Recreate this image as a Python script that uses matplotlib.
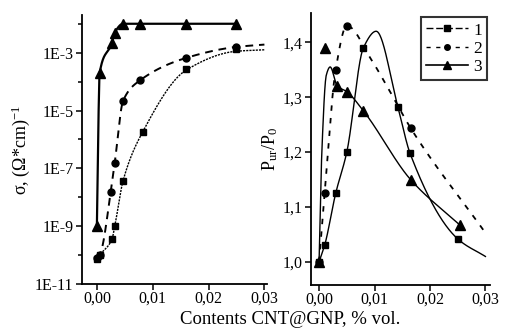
import numpy as np
import matplotlib
matplotlib.use("Agg")
import matplotlib.pyplot as plt
from matplotlib.ticker import FixedLocator, FuncFormatter

plt.rcParams['font.family'] = ['Liberation Serif', 'DejaVu Serif']
plt.rcParams['mathtext.fontset'] = 'custom'
plt.rcParams['mathtext.rm'] = 'Liberation Serif'
plt.rcParams['mathtext.it'] = 'Liberation Serif'

# ---------------- data: left panel (conductivity, log10 values) ----------------
s1_x = [0.0, 0.0005, 0.0027, 0.0032, 0.0047, 0.0082, 0.016, 0.025]
s1_logy = [-10.15, -10.0, -9.45, -9.0, -7.42, -5.74, -3.55, -2.88]
s1_curve_x = [0.0, 0.0005, 0.0027, 0.0032, 0.0047, 0.0082, 0.016, 0.025, 0.03]
s1_curve_logy = [-10.15, -10.0, -9.45, -9.0, -7.42, -5.74, -3.6, -2.95, -2.9]

s2_x = [0.0, 0.0005, 0.0025, 0.0032, 0.0047, 0.0077, 0.016, 0.025]
s2_logy = [-10.1, -10.0, -7.8, -6.8, -4.66, -3.96, -3.18, -2.8]
s2_curve_x = [0.0, 0.0005, 0.0025, 0.0032, 0.0047, 0.0077, 0.016, 0.025, 0.03]
s2_curve_logy = [-10.1, -10.0, -7.8, -6.8, -4.66, -3.96, -3.18, -2.8, -2.72]

s3_x = [0.0, 0.0005, 0.0027, 0.0032, 0.0047, 0.0077, 0.016, 0.025]
s3_logy = [-9.0, -3.7, -2.66, -2.31, -2.0, -2.0, -2.0, -2.0]

# ---------------- data: right panel (P_ur/P_0) ----------------
r1_x = [0.0, 0.001, 0.003, 0.005, 0.008, 0.0142, 0.0164, 0.025]
r1_y = [1.0, 1.03, 1.125, 1.2, 1.39, 1.283, 1.198, 1.042]
r1_curve_x = [0.0, 0.001, 0.003, 0.005, 0.008, 0.0103, 0.0142, 0.0164, 0.025, 0.03]
r1_curve_y = [1.0, 1.03, 1.125, 1.2, 1.39, 1.42, 1.283, 1.198, 1.042, 1.01]

r2_x = [0.0, 0.001, 0.003, 0.005, 0.0165]
r2_y = [1.0, 1.125, 1.35, 1.43, 1.244]
r2_curve_x = [0.0, 0.001, 0.003, 0.005, 0.0095, 0.0128, 0.0165, 0.03]
r2_curve_y = [1.0, 1.125, 1.35, 1.43, 1.367, 1.31, 1.244, 1.053]

r3_x = [0.0, 0.001, 0.0033, 0.005, 0.008, 0.0165, 0.0254]
r3_y = [1.0, 1.39, 1.32, 1.31, 1.275, 1.15, 1.067]
r3_curve_x = [0.0, 0.0005, 0.0013, 0.002, 0.0033, 0.005, 0.008, 0.0165, 0.0254]
r3_curve_y = [1.0, 1.2, 1.34, 1.355, 1.32, 1.31, 1.275, 1.15, 1.067]

left_yticks = [1e-11, 1e-9, 1e-7, 1e-5, 1e-3]
left_ytick_labels = ['1E-11', '1E-9', '1E-7', '1E-5', '1E-3']
xticks = [0.0, 0.01, 0.02, 0.03]
right_yticks = [1.0, 1.1, 1.2, 1.3, 1.4]
legend_labels = ['1', '2', '3']


def pchip(x, y, xn):
    x = np.asarray(x, float); y = np.asarray(y, float)
    h = np.diff(x); d = np.diff(y) / h
    n = len(x); m = np.zeros(n)
    for k in range(1, n - 1):
        if d[k - 1] * d[k] > 0:
            w1 = 2 * h[k] + h[k - 1]; w2 = h[k] + 2 * h[k - 1]
            m[k] = (w1 + w2) / (w1 / d[k - 1] + w2 / d[k])
    m[0] = d[0]; m[-1] = d[-1]
    idx = np.clip(np.searchsorted(x, xn) - 1, 0, n - 2)
    t = (xn - x[idx]) / h[idx]
    h00 = 2 * t**3 - 3 * t**2 + 1; h10 = t**3 - 2 * t**2 + t
    h01 = -2 * t**3 + 3 * t**2; h11 = t**3 - t**2
    return h00 * y[idx] + h10 * h[idx] * m[idx] + h01 * y[idx + 1] + h11 * h[idx] * m[idx + 1]


def comma(v, pos=None, fmt='{:.2f}'):
    return fmt.format(v).replace('.', ',')


fig = plt.figure(figsize=(5.05, 3.28), dpi=100)
axL = fig.add_axes([0.162, 0.134, 0.366, 0.820])
axR = fig.add_axes([0.616, 0.131, 0.354, 0.829])

FS = 11.5
for ax in (axL, axR):
    for s in ('top', 'right'):
        ax.spines[s].set_visible(False)
    for s in ('left', 'bottom'):
        ax.spines[s].set_linewidth(1.3)
    ax.tick_params(direction='out', length=4, width=1.1, labelsize=FS, pad=2)
    ax.tick_params(axis='x', pad=1)
    ax.tick_params(which='minor', direction='out', length=3, width=1.1)

# ---- left panel ----
xs1 = np.linspace(s1_curve_x[0], s1_curve_x[-1], 400)
axL.plot(xs1, 10 ** pchip(s1_curve_x, s1_curve_logy, xs1), color='black', lw=1.0, ls=(0, (1.5, 0.8)))
axL.plot(s1_x, 10 ** np.array(s1_logy), ls='none', marker='s', ms=5, color='black')
xs2 = np.linspace(s2_curve_x[0], s2_curve_x[-1], 400)
axL.plot(xs2, 10 ** pchip(s2_curve_x, s2_curve_logy, xs2), color='black', lw=1.4, ls=(0, (4, 3)))
axL.plot(s2_x, 10 ** np.array(s2_logy), ls='none', marker='o', ms=5, color='black')
xs3 = np.linspace(s3_x[0], s3_x[-1], 400)
axL.plot(xs3, 10 ** pchip(s3_x, s3_logy, xs3), color='black', lw=1.6)
axL.plot(s3_x, 10 ** np.array(s3_logy), ls='none', marker='^', ms=6.5, color='black')

axL.set_yscale('log')
axL.set_xlim(-0.0027, 0.0304)
axL.set_ylim(1e-11, 10 ** -1.7)
axL.yaxis.set_major_locator(FixedLocator(left_yticks))
axL.yaxis.set_minor_locator(FixedLocator([10.0 ** e for e in range(-10, -1, 2)]))
axL.set_yticklabels(left_ytick_labels)
axL.yaxis.set_minor_formatter(FuncFormatter(lambda v, p: ''))
axL.xaxis.set_major_locator(FixedLocator(xticks))
axL.xaxis.set_major_formatter(FuncFormatter(comma))
axL.set_ylabel('σ, (Ω*cm)$^{-1}$', fontsize=13, labelpad=2)

# ---- right panel ----
xr1 = np.linspace(r1_curve_x[0], r1_curve_x[-1], 400)
axR.plot(xr1, pchip(r1_curve_x, r1_curve_y, xr1), color='black', lw=1.0)
axR.plot(r1_x, r1_y, ls='none', marker='s', ms=5, color='black')
xr2 = np.linspace(r2_curve_x[0], r2_curve_x[-1], 400)
axR.plot(xr2, pchip(r2_curve_x, r2_curve_y, xr2), color='black', lw=1.3, ls=(0, (3, 4)))
axR.plot(r2_x, r2_y, ls='none', marker='o', ms=5, color='black')
xr3 = np.linspace(r3_curve_x[0], r3_curve_x[-1], 400)
axR.plot(xr3, pchip(r3_curve_x, r3_curve_y, xr3), color='black', lw=1.0)
axR.plot(r3_x, r3_y, ls='none', marker='^', ms=6.5, color='black')

axR.set_xlim(-0.00144, 0.0308)
axR.set_ylim(0.958, 1.453)
axR.xaxis.set_major_locator(FixedLocator(xticks))
axR.xaxis.set_major_formatter(FuncFormatter(comma))
axR.yaxis.set_major_locator(FixedLocator(right_yticks))
axR.yaxis.set_major_formatter(FuncFormatter(lambda v, p: comma(v, p, '{:.1f}')))
axR.set_ylabel('P$_{ur}$/P$_{0}$', fontsize=13, labelpad=2)

h1, = axR.plot([], [], color='black', lw=1.0, marker='s', ms=4, ls=(0, (5, 2)))
h2, = axR.plot([], [], color='black', lw=1.0, marker='o', ms=4, ls=(0, (3, 4)))
h3, = axR.plot([], [], color='black', lw=1.2, marker='^', ms=5.5)
leg = axR.legend([h1, h2, h3], legend_labels, loc='upper right', bbox_to_anchor=(0.985, 0.985),
                 fontsize=12.5, frameon=True, fancybox=False, handlelength=2.4,
                 handletextpad=0.3, borderpad=0.3, labelspacing=0.12, borderaxespad=0.0)
leg.get_frame().set_edgecolor('black')
leg.get_frame().set_linewidth(1.5)

fig.text(0.575, 0.026, 'Contents CNT@GNP, % vol.', ha='center', va='center', fontsize=13.5)

fig.savefig('out.png', dpi=100)
